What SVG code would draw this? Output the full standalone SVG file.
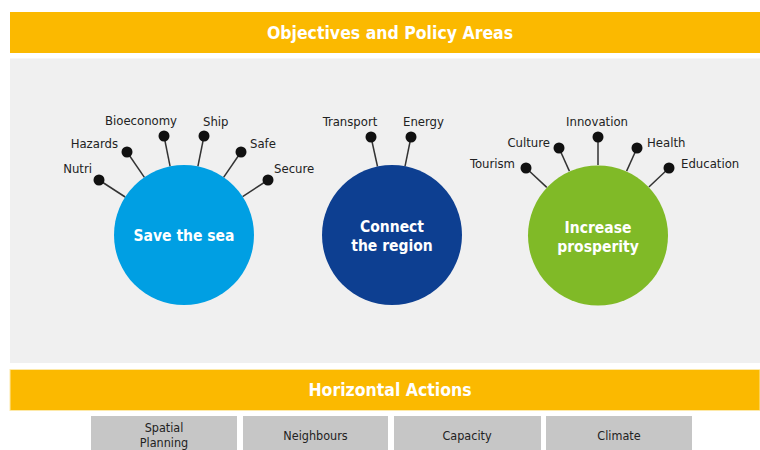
<svg xmlns="http://www.w3.org/2000/svg" width="760" height="450" viewBox="0 0 760 450">
<style>
.bar{fill:#fbb900}
.panel{fill:#f0f0f0}
.title{font-family:"DejaVu Sans Condensed","DejaVu Sans",sans-serif;font-weight:bold;font-size:17.5px;fill:#fff;text-anchor:middle}
.lbl{font-family:"DejaVu Sans Condensed","DejaVu Sans",sans-serif;font-size:13px;fill:#222}
.ctext{font-family:"DejaVu Sans Condensed","DejaVu Sans",sans-serif;font-weight:bold;font-size:15.5px;fill:#fff;text-anchor:middle}
.dot{fill:#111}
.conn line{stroke:#333;stroke-width:1.5}
.box{fill:#c6c6c6}
.btext{font-family:"DejaVu Sans Condensed","DejaVu Sans",sans-serif;font-size:12.5px;fill:#222;text-anchor:middle}
</style>
<rect x="0" y="0" width="760" height="450" fill="#fff"/>
<g id="objectives-header">
<rect class="bar" x="10" y="12" width="750" height="41"/>
<text class="title" x="390" y="38.5">Objectives and Policy Areas</text>
</g>
<rect class="panel" x="10" y="58.5" width="750" height="304.5"/>
<g class="conn" id="connectors">
<line x1="99" y1="180" x2="125.2" y2="197"/>
<line x1="127" y1="152" x2="144.4" y2="177.3"/>
<line x1="164" y1="136" x2="170.1" y2="166.4"/>
<line x1="204" y1="136" x2="197.9" y2="166.4"/>
<line x1="241" y1="152" x2="223.6" y2="177.3"/>
<line x1="268" y1="180" x2="242.6" y2="196.7"/>
<line x1="371" y1="137" x2="377.5" y2="166.5"/>
<line x1="411" y1="137" x2="405" y2="166.3"/>
<line x1="526" y1="168" x2="546.8" y2="187.4"/>
<line x1="559" y1="148" x2="569.4" y2="171.1"/>
<line x1="598" y1="137" x2="598" y2="165"/>
<line x1="637" y1="148" x2="626.6" y2="171.1"/>
<line x1="669" y1="168" x2="648.9" y2="187"/>
</g>
<g id="save-the-sea">
<circle cx="184" cy="235" r="70" fill="#009fe3"/>
<text class="ctext" x="184" y="241">Save the sea</text>
</g>
<g id="connect-the-region">
<circle cx="392" cy="235" r="70" fill="#0d3f91"/>
<text class="ctext" x="392" y="232">Connect</text>
<text class="ctext" x="392" y="251">the region</text>
</g>
<g id="increase-prosperity">
<circle cx="598" cy="235.5" r="70" fill="#80ba27"/>
<text class="ctext" x="598" y="233">Increase</text>
<text class="ctext" x="598" y="252">prosperity</text>
</g>
<g id="nutri"><circle class="dot" cx="99" cy="180" r="5.5"/><text class="lbl" x="92" y="172.5" text-anchor="end">Nutri</text></g>
<g id="hazards"><circle class="dot" cx="127" cy="152" r="5.5"/><text class="lbl" x="118" y="147.5" text-anchor="end">Hazards</text></g>
<g id="bioeconomy"><circle class="dot" cx="164" cy="136" r="5.5"/><text class="lbl" x="141" y="125" text-anchor="middle">Bioeconomy</text></g>
<g id="ship"><circle class="dot" cx="204" cy="136" r="5.5"/><text class="lbl" x="203" y="125.5">Ship</text></g>
<g id="safe"><circle class="dot" cx="241" cy="152" r="5.5"/><text class="lbl" x="250" y="147.5">Safe</text></g>
<g id="secure"><circle class="dot" cx="268" cy="180" r="5.5"/><text class="lbl" x="274" y="172.5">Secure</text></g>
<g id="transport"><circle class="dot" cx="371" cy="137" r="5.5"/><text class="lbl" x="350" y="125.5" text-anchor="middle">Transport</text></g>
<g id="energy"><circle class="dot" cx="411" cy="137" r="5.5"/><text class="lbl" x="423.5" y="125.5" text-anchor="middle">Energy</text></g>
<g id="tourism"><circle class="dot" cx="526" cy="168" r="5.5"/><text class="lbl" x="515" y="167.5" text-anchor="end">Tourism</text></g>
<g id="culture"><circle class="dot" cx="559" cy="148" r="5.5"/><text class="lbl" x="550" y="146.5" text-anchor="end">Culture</text></g>
<g id="innovation"><circle class="dot" cx="598" cy="137" r="5.5"/><text class="lbl" x="597" y="125.5" text-anchor="middle">Innovation</text></g>
<g id="health"><circle class="dot" cx="637" cy="148" r="5.5"/><text class="lbl" x="647" y="146.5">Health</text></g>
<g id="education"><circle class="dot" cx="669" cy="168" r="5.5"/><text class="lbl" x="681" y="167.5">Education</text></g>
<g id="horizontal-header">
<rect class="bar" x="10" y="369.5" width="750" height="41" stroke="#fde9a8" stroke-width="1"/>
<text class="title" x="390" y="395.5">Horizontal Actions</text>
</g>
<g id="spatial-planning"><rect class="box" x="91" y="416" width="146" height="36"/><text class="btext" x="164" y="432">Spatial</text><text class="btext" x="164" y="446.5">Planning</text></g>
<g id="neighbours"><rect class="box" x="243" y="416" width="145" height="36"/><text class="btext" x="315.5" y="439.5">Neighbours</text></g>
<g id="capacity"><rect class="box" x="394" y="416" width="147" height="36"/><text class="btext" x="467" y="439.5">Capacity</text></g>
<g id="climate"><rect class="box" x="546" y="416" width="146" height="36"/><text class="btext" x="619" y="439.5">Climate</text></g>
</svg>
